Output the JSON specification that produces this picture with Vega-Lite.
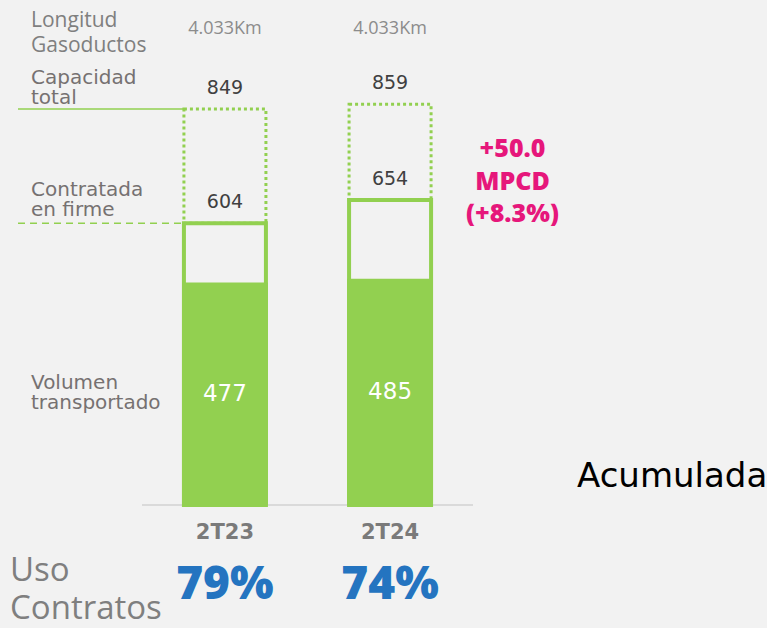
{
  "$schema": "https://vega.github.io/schema/vega-lite/v6.json",
  "width": 767,
  "height": 628,
  "autosize": {"type": "none"},
  "padding": 0,
  "background": "#f2f2f2",
  "config": {"view": {"stroke": null}},
  "data": {
    "values": [
      {"periodo": "2T23", "longitud": "4.033Km", "capacidad": 849, "contratada": 604, "volumen": 477, "uso": 0.79},
      {"periodo": "2T24", "longitud": "4.033Km", "capacidad": 859, "contratada": 654, "volumen": 485, "uso": 0.74}
    ]
  },
  "layer": [
    {
      "mark": {"type": "rule", "color": "#d9d9d9", "strokeWidth": 1.5},
      "encoding": {
        "y": {"datum": 0, "type": "quantitative", "scale": {"domain": [-263.7, 1082.5]}, "axis": null},
        "x": {"value": 142},
        "x2": {"value": 473}
      }
    },
    {
      "transform": [{"filter": "datum.periodo === '2T23'"}],
      "mark": {"type": "rule", "color": "#92d050", "strokeWidth": 1.5},
      "encoding": {
        "y": {"field": "capacidad", "type": "quantitative", "scale": {"domain": [-263.7, 1082.5]}, "axis": null},
        "x": {"value": 18},
        "x2": {"value": 184}
      }
    },
    {
      "transform": [{"filter": "datum.periodo === '2T23'"}],
      "mark": {"type": "rule", "color": "#92d050", "strokeWidth": 1.5, "strokeDash": [7, 5]},
      "encoding": {
        "y": {"field": "contratada", "type": "quantitative", "scale": {"domain": [-263.7, 1082.5]}, "axis": null},
        "x": {"value": 18},
        "x2": {"value": 182}
      }
    },
    {
      "mark": {"type": "bar", "fill": null, "fillOpacity": 0, "stroke": "#92d050", "strokeWidth": 3, "strokeDash": [3, 3], "width": {"band": 0.955}},
      "encoding": {
        "x": {
          "field": "periodo", "type": "nominal",
          "scale": {"domain": ["2T23", "2T24"], "range": [182, 433], "paddingInner": 0.48, "paddingOuter": 0},
          "axis": {
            "title": null, "orient": "bottom", "offset": -123, "domain": false, "ticks": false, "tickSize": 0,
            "labelPadding": 16, "labelFont": "DejaVu Sans", "labelFontWeight": "bold", "labelFontSize": 21,
            "labelColor": "#7a7a7a", "labelAngle": 0, "grid": false
          }
        },
        "y": {"field": "capacidad", "type": "quantitative", "scale": {"domain": [-263.7, 1082.5]}, "axis": null},
        "y2": {"field": "contratada"}
      }
    },
    {
      "mark": {"type": "bar", "fill": null, "fillOpacity": 0, "stroke": "#92d050", "strokeWidth": 4, "width": {"band": 0.955}},
      "encoding": {
        "x": {"field": "periodo", "type": "nominal", "scale": {"domain": ["2T23", "2T24"], "range": [182, 433], "paddingInner": 0.48, "paddingOuter": 0}},
        "y": {"field": "contratada", "type": "quantitative", "scale": {"domain": [-263.7, 1082.5]}, "axis": null},
        "y2": {"datum": 0}
      }
    },
    {
      "mark": {"type": "bar", "fill": "#92d050"},
      "encoding": {
        "x": {"field": "periodo", "type": "nominal", "scale": {"domain": ["2T23", "2T24"], "range": [182, 433], "paddingInner": 0.48, "paddingOuter": 0}},
        "y": {"field": "volumen", "type": "quantitative", "scale": {"domain": [-263.7, 1082.5]}, "axis": null},
        "y2": {"datum": 0}
      }
    },
    {
      "mark": {"type": "text", "font": "DejaVu Sans", "fontSize": 19, "color": "#404040", "baseline": "middle", "dy": -21},
      "encoding": {
        "x": {"field": "periodo", "type": "nominal", "scale": {"domain": ["2T23", "2T24"], "range": [182, 433], "paddingInner": 0.48, "paddingOuter": 0}},
        "y": {"field": "capacidad", "type": "quantitative", "scale": {"domain": [-263.7, 1082.5]}, "axis": null},
        "text": {"field": "capacidad", "type": "quantitative"}
      }
    },
    {
      "mark": {"type": "text", "font": "DejaVu Sans", "fontSize": 19, "color": "#404040", "baseline": "middle", "dy": -21},
      "encoding": {
        "x": {"field": "periodo", "type": "nominal", "scale": {"domain": ["2T23", "2T24"], "range": [182, 433], "paddingInner": 0.48, "paddingOuter": 0}},
        "y": {"field": "contratada", "type": "quantitative", "scale": {"domain": [-263.7, 1082.5]}, "axis": null},
        "text": {"field": "contratada", "type": "quantitative"}
      }
    },
    {
      "transform": [{"calculate": "datum.volumen / 2", "as": "medio"}],
      "mark": {"type": "text", "font": "DejaVu Sans", "fontSize": 23, "color": "#ffffff", "baseline": "middle"},
      "encoding": {
        "x": {"field": "periodo", "type": "nominal", "scale": {"domain": ["2T23", "2T24"], "range": [182, 433], "paddingInner": 0.48, "paddingOuter": 0}},
        "y": {"field": "medio", "type": "quantitative", "scale": {"domain": [-263.7, 1082.5]}, "axis": null},
        "text": {"field": "volumen", "type": "quantitative"}
      }
    },
    {
      "mark": {"type": "text", "font": "Open Sans", "fontSize": 18, "color": "#8c8c8c", "baseline": "middle"},
      "encoding": {
        "x": {"field": "periodo", "type": "nominal", "scale": {"domain": ["2T23", "2T24"], "range": [182, 433], "paddingInner": 0.48, "paddingOuter": 0}},
        "y": {"value": 29},
        "text": {"field": "longitud", "type": "nominal"}
      }
    },
    {
      "mark": {"type": "text", "font": "Open Sans", "fontSize": 46, "fontWeight": 800, "color": "#2474c0", "baseline": "middle"},
      "encoding": {
        "x": {"field": "periodo", "type": "nominal", "scale": {"domain": ["2T23", "2T24"], "range": [182, 433], "paddingInner": 0.48, "paddingOuter": 0}},
        "y": {"value": 585},
        "text": {"field": "uso", "type": "quantitative", "format": ".0%"}
      }
    },
    {
      "transform": [{"filter": "datum.periodo === '2T23'"}],
      "mark": {"type": "text", "font": "DejaVu Sans", "fontSize": 20, "color": "#767171", "align": "left", "baseline": "alphabetic", "dy": -25, "lineHeight": 20, "text": ["Capacidad", "total"]},
      "encoding": {
        "x": {"value": 31},
        "y": {"field": "capacidad", "type": "quantitative", "scale": {"domain": [-263.7, 1082.5]}, "axis": null}
      }
    },
    {
      "transform": [{"filter": "datum.periodo === '2T23'"}],
      "mark": {"type": "text", "font": "DejaVu Sans", "fontSize": 20, "color": "#767171", "align": "left", "baseline": "alphabetic", "dy": -27, "lineHeight": 20, "text": ["Contratada", "en firme"]},
      "encoding": {
        "x": {"value": 31},
        "y": {"field": "contratada", "type": "quantitative", "scale": {"domain": [-263.7, 1082.5]}, "axis": null}
      }
    },
    {
      "transform": [{"filter": "datum.periodo === '2T23'"}, {"calculate": "datum.volumen / 2", "as": "medio"}],
      "mark": {"type": "text", "font": "DejaVu Sans", "fontSize": 20, "color": "#767171", "align": "left", "baseline": "alphabetic", "dy": -5, "lineHeight": 20, "text": ["Volumen", "transportado"]},
      "encoding": {
        "x": {"value": 31},
        "y": {"field": "medio", "type": "quantitative", "scale": {"domain": [-263.7, 1082.5]}, "axis": null}
      }
    },
    {
      "data": {"values": [{}]},
      "mark": {"type": "text", "font": "Open Sans", "fontSize": 21, "color": "#7f7f7f", "align": "left", "baseline": "alphabetic", "lineHeight": 25, "text": ["Longitud", "Gasoductos"]},
      "encoding": {"x": {"value": 31}, "y": {"value": 27}}
    },
    {
      "data": {"values": [{}]},
      "mark": {"type": "text", "font": "Open Sans", "fontSize": 33, "color": "#7f7f7f", "align": "left", "baseline": "alphabetic", "lineHeight": 38, "text": ["Uso", "Contratos"]},
      "encoding": {"x": {"value": 10}, "y": {"value": 581}}
    },
    {
      "data": {"values": [{}]},
      "mark": {"type": "text", "font": "Open Sans", "fontSize": 25, "fontWeight": 800, "color": "#e6177b", "align": "center", "baseline": "alphabetic", "lineHeight": 32.5, "text": ["+50.0", "MPCD", "(+8.3%)"]},
      "encoding": {"x": {"value": 512.5}, "y": {"value": 157}}
    },
    {
      "data": {"values": [{}]},
      "mark": {"type": "text", "font": "DejaVu Sans", "fontSize": 34, "color": "#000000", "align": "left", "baseline": "alphabetic", "text": "Acumulada"},
      "encoding": {"x": {"value": 577}, "y": {"value": 487}}
    }
  ]
}
